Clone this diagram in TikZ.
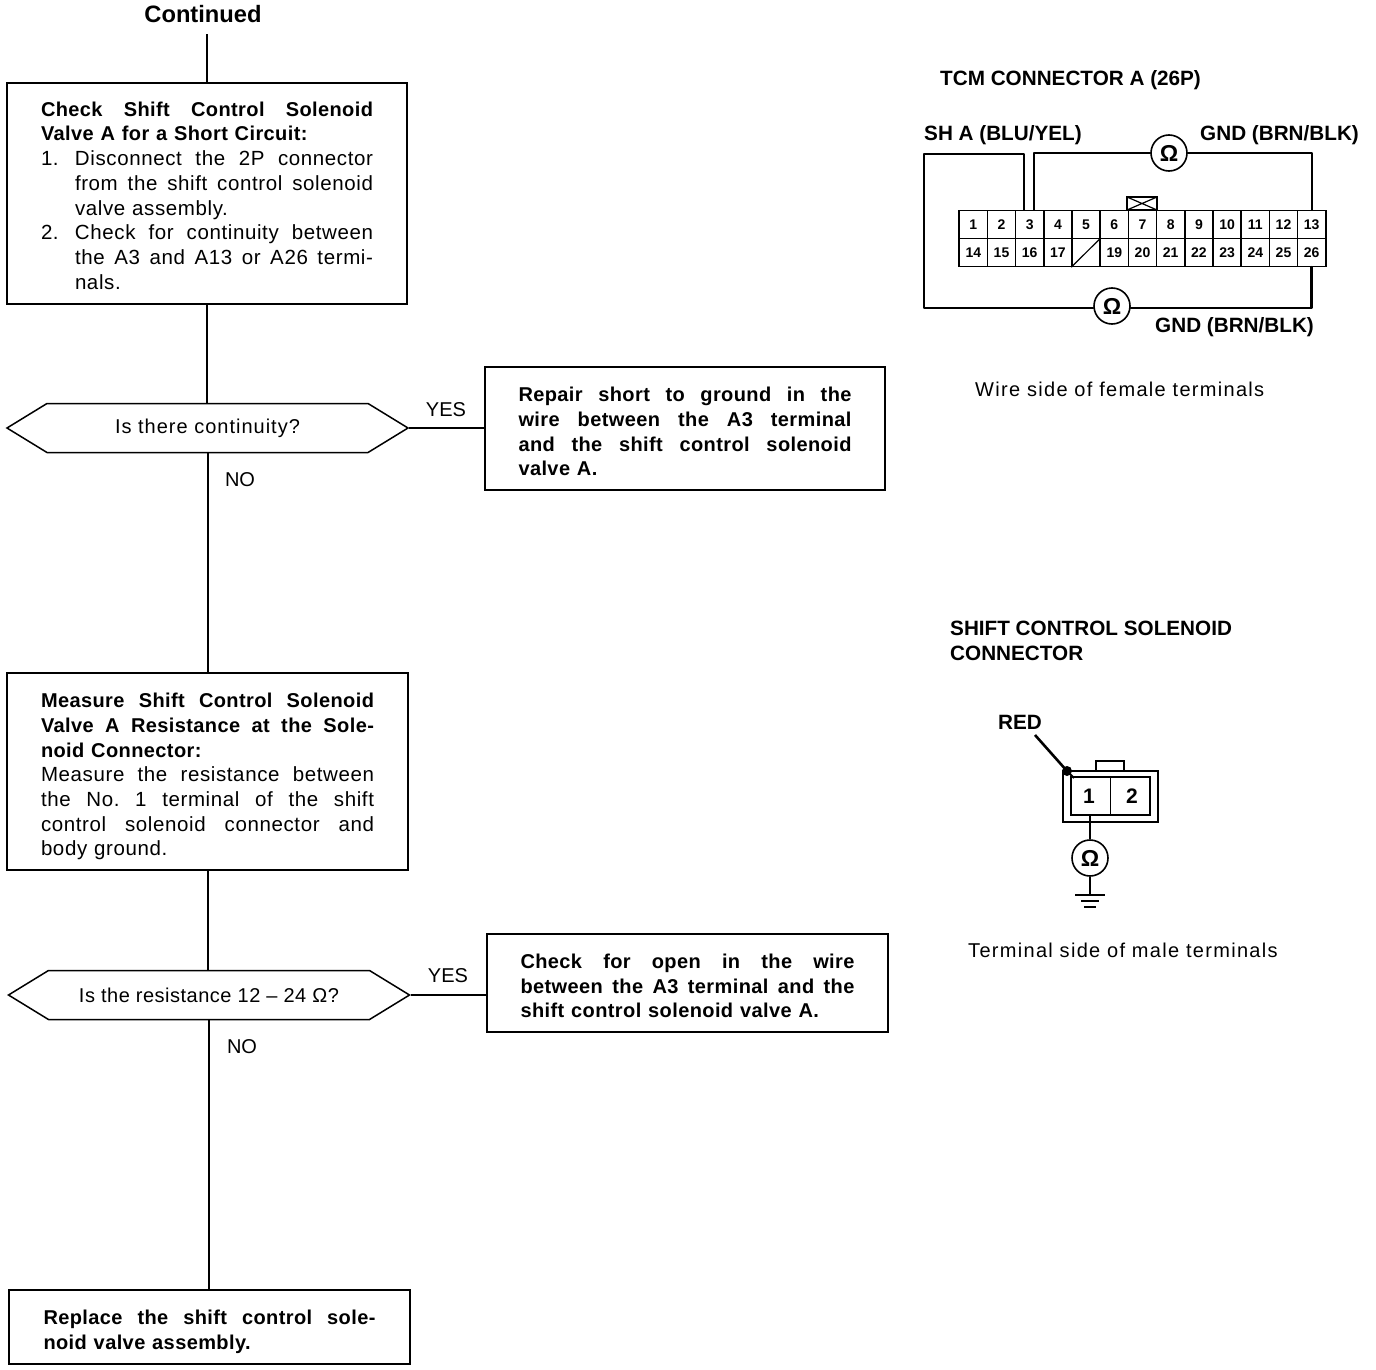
\documentclass[tikz,border=0pt]{standalone}
\usepackage{fontspec}
\setmainfont{Liberation Sans}
\usetikzlibrary{shapes.symbols,calc}
\newdimen\tw
\newcommand\bodyf{\fontsize{20.5}{24.7}\selectfont\addfontfeature{LetterSpace=3}}
\def\gaps#1 #2\gapsend{#1\ifx\relax#2\relax\else\hskip 5pt plus 1fil\gaps#2\gapsend\fi}
\newcommand\jline[1]{\hbox to \tw{\gaps#1 \gapsend}}
\newcommand\jbold[1]{\hbox to \tw{\bbf{\gaps#1 \gapsend}}}
\newcommand\sline[1]{\hbox to \tw{#1\hfil}}
\newcommand\nline[2]{\hbox to \tw{\hbox to 34pt{#1\hfil}\gaps#2 \gapsend}}
\newcommand\iline[1]{\hbox to \tw{\hbox to 34pt{\hfil}\gaps#1 \gapsend}}
\newcommand\isline[1]{\hbox to \tw{\hbox to 34pt{\hfil}#1\hfil}}
\newcommand\bbf[1]{{\fontsize{20}{24.7}\bfseries\selectfont\addfontfeature{LetterSpace=2}#1}}
\tikzset{
 x=1pt,y=-1pt,
 wire/.style={line width=2.2pt,line cap=round,line join=round},
 thinwire/.style={line width=2pt},
 actbox/.style={draw,line width=1.8pt,rectangle,inner sep=0pt,font=\bodyf},
 dec/.style={draw,line width=1.5pt,signal,signal to=west and east,signal pointer angle=63,minimum width=401pt,minimum height=49pt,inner sep=0pt,font=\fontsize{20}{24}\selectfont\addfontfeature{LetterSpace=5}},
 lab/.style={inner sep=0pt,font=\fontsize{20}{24}\selectfont},
 blab/.style={inner sep=0pt,anchor=west,font=\fontsize{20.7}{24}\selectfont\bfseries},
 slab/.style={inner sep=0pt,anchor=west,font=\fontsize{20}{24}\selectfont\addfontfeature{LetterSpace=6.5}},
 ohm/.style={draw,circle,line width=1.6pt,minimum size=36pt,inner sep=0pt,fill=white,font=\fontsize{23}{24}\selectfont\bfseries},
 pin/.style={draw,rectangle,line width=1.5pt,minimum width=28.2pt,minimum height=28pt,inner sep=0pt,font=\fontsize{14}{16}\selectfont\bfseries},
 pnum/.style={inner sep=0pt,minimum height=38pt,font=\fontsize{21}{24}\selectfont\bfseries},
}
\begin{document}
\begin{tikzpicture}
\useasboundingbox (0,0) rectangle (1376,1370);
\fill[white] (0,0) rectangle (1376,1370);

% flow chart
\node[inner sep=0pt,minimum height=40pt,font=\fontsize{23.7}{26}\selectfont\bfseries] (cont) at (203,14) {Continued};
\node[actbox,minimum width=400pt,minimum height=221pt,text width=332pt] (box1) at (207,193.5) {\tw=332pt\vskip -6pt
 \jbold{Check Shift Control Solenoid}
 \sline{\bbf{Valve A for a Short Circuit:}}
 \nline{1.}{Disconnect the 2P connector}
 \iline{from the shift control solenoid}
 \isline{valve assembly.}
 \nline{2.}{Check for continuity between}
 \iline{the A3 and A13 or A26 termi-}
 \isline{nals.}};
\node[dec] (d1) at (207.5,428) {Is there continuity?};
\node[actbox,minimum width=400pt,minimum height=123pt,text width=333pt] (box3) at (685,428.5) {\tw=333pt\vskip -4pt
 \jbold{Repair short to ground in the}
 \jbold{wire between the A3 terminal}
 \jbold{and the shift control solenoid}
 \sline{\bbf{valve A.}}};
\node[actbox,minimum width=401pt,minimum height=197pt,text width=333pt] (box2) at (207.5,771.5) {\tw=333pt\vskip 0pt
 \jbold{Measure Shift Control Solenoid}
 \jbold{Valve A Resistance at the Sole-}
 \sline{\bbf{noid Connector:}}
 \jline{Measure the resistance between}
 \jline{the No. 1 terminal of the shift}
 \jline{control solenoid connector and}
 \sline{body ground.}};
\node[dec,font=\fontsize{20}{24}\selectfont\addfontfeature{LetterSpace=2.5}] (d2) at (209,995) {Is the resistance 12 -- 24 Ω?};
\node[actbox,minimum width=401pt,minimum height=98pt,text width=334pt] (box4) at (687.5,983) {\tw=334pt\vskip -4pt
 \jbold{Check for open in the wire}
 \jbold{between the A3 terminal and the}
 \sline{\bbf{shift control solenoid valve A.}}};
\node[actbox,line width=2.2pt,minimum width=401pt,minimum height=74pt,text width=332pt] (box5) at (209.5,1327) {\tw=332pt\vskip 0pt
 \jbold{Replace the shift control sole-}
 \sline{\bbf{noid valve assembly.}}};

\draw[thinwire] (cont.south -| box1.north) -- (box1.north);
\draw[thinwire] (box1.south) -- (box1.south |- d1.north);
\draw[thinwire] ([xshift=.5pt]d1.south) -- ([xshift=.5pt]d1.south |- box2.north);
\draw[thinwire] ([xshift=.5pt]box2.south) -- ([xshift=.5pt]box2.south |- d2.north);
\draw[thinwire] (d2.south) -- (d2.south |- box5.north);
\draw[thinwire] (d1.east) -- (d1.east -| box3.west);
\draw[thinwire] (d2.east) -- (d2.east -| box4.west);

\node[lab] (y1) at (446,410) {YES};
\node[lab] (n1) at (240,480) {NO};
\node[lab] (y2) at (448,976) {YES};
\node[lab] (n2) at (242,1047) {NO};

% TCM connector
\node[blab] (t1) at (940,80) {TCM CONNECTOR A (26P)};
\node[blab] (t2) at (924,135) {SH A (BLU/YEL)};
\node[blab] (t3) at (1200,135) {GND (BRN/BLK)};
\node[blab] (t4) at (1155,327) {GND (BRN/BLK)};
\node[slab] (t5) at (975,389) {Wire side of female terminals};
\foreach \n [count=\i from 0] in {1,...,13}
  \node[pin] (c\n) at ({973.3+28.2*\i},224.5) {\n};
\foreach \n/\t [count=\i from 0] in {14/14,15/15,16/16,17/17,18/{},19/19,20/20,21/21,22/22,23/23,24/24,25/25,26/26}
  \node[pin] (c\n) at ({973.3+28.2*\i},252.5) {\t};
\draw[line width=1.2pt] (c18.south west) -- (c18.north east);
\draw[line width=1.8pt] (1127,210) rectangle (1157,197);
\draw[line width=1.2pt] (1127,197) -- (1157,210) (1127,210) -- (1157,197);

\node[ohm] (o1) at (1169,153) {Ω};
\node[ohm] (o2) at (1112,306) {Ω};
\coordinate (a3l) at ([xshift=-6pt]c3.north);
\coordinate (a3r) at ([xshift=4pt]c3.north);
\coordinate (a13) at (c13.north);
\coordinate (a26) at (c26.south);
\draw[wire] (a3r) -- (a3r |- o1) -- (o1);
\draw[wire] (o1) -- (o1 -| a13) -- (a13);
\draw[wire] (a3l) -- (a3l |- 0,154) -- (924,154) -- (924,308) -- (o2.west |- 0,308);
\draw[wire,line width=2.6pt] (o2.east |- 0,308) -- (a26 |- 0,308) -- (a26);

% solenoid connector
\node[blab] (s1) at (950,628) {SHIFT CONTROL SOLENOID};
\node[blab] (s2) at (950,653) {CONNECTOR};
\node[blab,anchor=center] (red) at (1020,722) {RED};
\draw[line width=1.4pt] (1063,771) rectangle (1158,822);
\draw[line width=1.4pt] (1096,771) -- (1096,761) -- (1124,761) -- (1124,771);
\draw[line width=2pt] (1071,777) rectangle (1150,815);
\node[pnum,minimum width=42pt] (p1) at (1089,796) {1};
\node[pnum,minimum width=44pt] (p2) at (1132,796) {2};
\draw[line width=1pt] (p1.north east) -- (p1.south east);
\node[ohm] (o3) at (1090,858) {Ω};
\coordinate (gnd) at (1090,895);
\draw[thinwire] (p1.south -| o3) -- (o3.north);
\draw[thinwire] (o3.south) -- (gnd);
\draw[line width=1.6pt] ([xshift=-15pt]gnd) -- ([xshift=15pt]gnd);
\draw[line width=1.6pt] ([xshift=-9pt,yshift=-6pt]gnd) -- ([xshift=9pt,yshift=-6pt]gnd);
\draw[line width=1.6pt] ([xshift=-6pt,yshift=-12pt]gnd) -- ([xshift=6pt,yshift=-12pt]gnd);
\coordinate (tip) at (1067,771);
\draw[line width=2.6pt] (1035,735) -- (tip);
\draw[line width=2pt] (tip) -- (1074,778);
\fill (tip) circle (5pt);
\node[slab] (s3) at (968,950) {Terminal side of male terminals};
\end{tikzpicture}
\end{document}
